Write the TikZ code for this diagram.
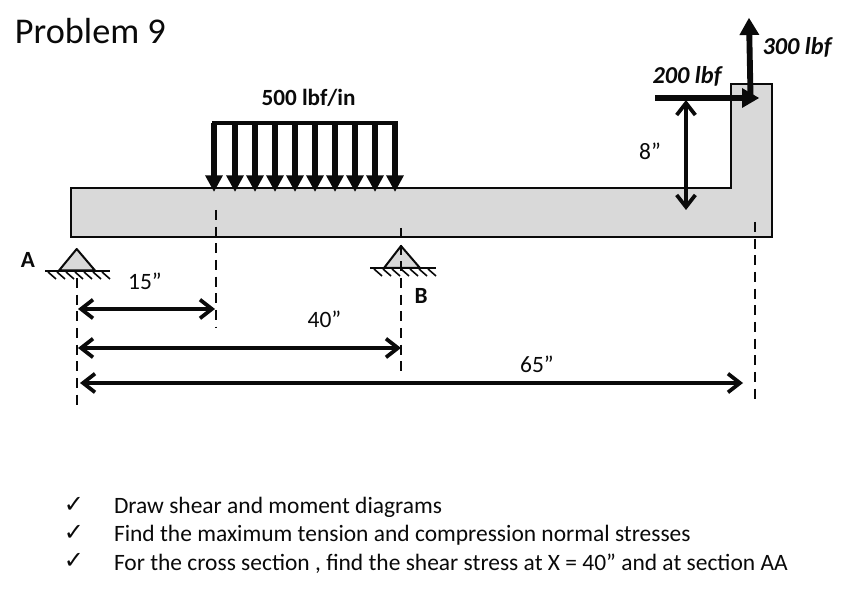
\documentclass[tikz,border=0pt]{standalone}
\usepackage{fontspec}
\setmainfont{Carlito}
\newfontfamily\chk{DejaVu Sans}
\usetikzlibrary{arrows.meta}
\definecolor{beamgray}{HTML}{D9D9D9}
\definecolor{ink}{HTML}{0A0A0A}
\tikzset{
  x=0.75pt,y=-0.75pt,
  every node/.style={inner sep=0pt,outer sep=0pt,text=ink},
  beam/.style={draw=ink,fill=beamgray,line width=1.9pt,line join=miter},
  loadarrow/.style={draw=ink,line width=4.4pt,-{Triangle[length=12.5pt,width=12.5pt]}},
  loadbar/.style={draw=ink,line width=2.8pt},
  force/.style={draw=ink,line width=4.4pt,-{Triangle[length=13pt,width=14pt]},shorten >=-1pt},
  dim/.style={draw=ink,line width=3pt,{Straight Barb[length=9pt,width=14pt,line width=2.8pt]}-{Straight Barb[length=9pt,width=14pt,line width=2.8pt]}},
  guide/.style={draw=ink,line width=1.5pt,dash pattern=on 7.5pt off 5pt},
  supportshape/.style={draw=ink,fill=beamgray,line width=1.5pt,line join=round},
  ground/.style={draw=ink,line width=1.5pt},
  hatchline/.style={draw=ink,line width=1.2pt},
  dimlabel/.style={font=\fontsize{17.6}{20}\selectfont},
  bodytext/.style={font=\fontsize{17.6}{20}\selectfont,anchor=west},
  boldlabel/.style={font=\fontsize{17.4}{20}\selectfont\bfseries},
  forcelabel/.style={font=\fontsize{18.2}{21}\selectfont\bfseries\itshape},
  checkmark/.style={font=\chk\fontsize{18}{20}\selectfont},
}
\begin{document}
\begin{tikzpicture}
\useasboundingbox (0,0) rectangle (851,602);
\fill[white] (0,0) rectangle (851,602);
% beam
\draw[beam] (71,188) -- (731,188) -- (731,84) -- (772,84) -- (772,237) -- (71,237) -- cycle;
% guides
\coordinate (g15t) at (216,210); \coordinate (g15b) at (216,328);
\coordinate (g40t) at (401,228); \coordinate (g40b) at (401,371);
\coordinate (g0t) at (76.5,278); \coordinate (g0b) at (76.5,410);
\coordinate (g65t) at (755,222); \coordinate (g65b) at (755,401);
% supports
\draw[supportshape] (59,270.5) -- (76.7,249) -- (95,270.5) -- cycle;
\draw[ground] (45,271.5) -- (110,271.5);
\foreach \x in {48,57,66,75,84,93,102}{\draw[hatchline] (\x,272) -- (\x+8,279);}
\draw[supportshape] (384,268) -- (401,246) -- (420,268) -- cycle;
\draw[ground] (370,268.5) -- (436,268.5);
\foreach \x in {374,383,392,401,410,419,428}{\draw[hatchline] (\x,269) -- (\x+8,276);}
\draw[guide] (g15t) -- (g15b);
\draw[guide] (g40t) -- (g40b);
\draw[guide] (g0t) -- (g0b);
\draw[guide] (g65t) -- (g65b);
% distributed load
\coordinate (lt1) at (212,123); \coordinate (lt2) at (397.5,123);
\draw[loadbar] (lt1) -- (lt2);
\foreach \x in {214,235,255,275,295,315,335,355,375,395}{
  \coordinate (top) at (\x,123); \coordinate (tip) at (\x,192);
  \draw[loadarrow] (top) -- (tip);
}
% dimensions
\coordinate (d15a) at (78,309); \coordinate (d15b) at (215,309);
\coordinate (d40a) at (78,348); \coordinate (d40b) at (401,348);
\coordinate (d65a) at (80,383); \coordinate (d65b) at (743,383);
\coordinate (d8a) at (686,100); \coordinate (d8b) at (686,210);
\draw[dim] (d15a) -- (d15b);
\draw[dim] (d40a) -- (d40b);
\draw[dim] (d65a) -- (d65b);
\draw[dim] (d8a) -- (d8b);
% forces
\coordinate (f2a) at (655,98); \coordinate (f2b) at (758,98);
\coordinate (f3a) at (750.6,100); \coordinate (f3b) at (749,19);
\draw[force] (f2a) -- (f2b);
\draw[force] (f3a) -- (f3b);
% labels
\node[font=\fontsize{27.2}{30}\selectfont,anchor=west] (title) at (15,31) {Problem 9};
\node[boldlabel] (load) at (308.5,98) {500 lbf/in};
\node[forcelabel] (f200) at (687,76) {200 lbf};
\node[forcelabel] (f300) at (797,47) {300 lbf};
\node[dimlabel] (l8) at (650,151) {8”};
\node[dimlabel] (l15) at (145,281) {15”};
\node[dimlabel] (l40) at (324.5,319) {40”};
\node[dimlabel] (l65) at (537,364) {65”};
\node[boldlabel] (la) at (28,260) {A};
\node[boldlabel] (lb) at (421,296) {B};
\node[checkmark] (c1) at (74,505) {✓};
\node[checkmark] (c2) at (74,533) {✓};
\node[checkmark] (c3) at (74,561) {✓};
\node[bodytext] (t1) at (114,507.5) {Draw shear and moment diagrams};
\node[bodytext] (t2) at (114,535.5) {Find the maximum tension and compression normal stresses};
\node[bodytext] (t3) at (114,563.5) {For the cross section , find the shear stress at X = 40” and at section AA};
\end{tikzpicture}
\end{document}
